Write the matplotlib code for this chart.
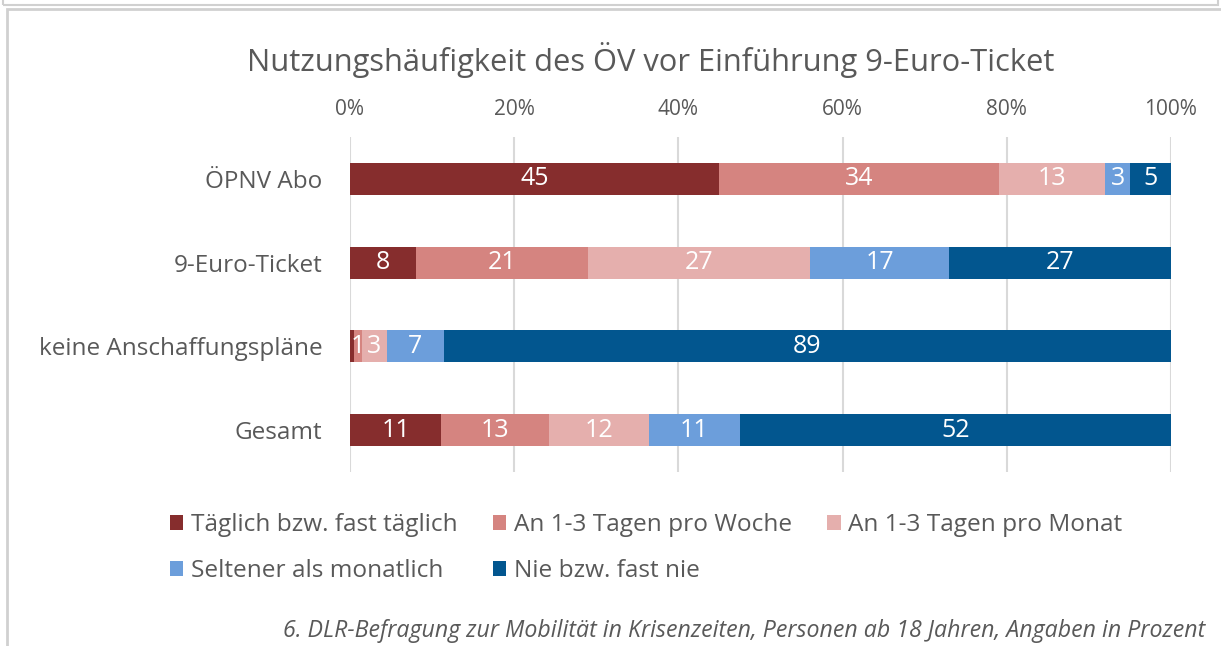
import matplotlib
matplotlib.use("Agg")
import matplotlib.pyplot as plt
import numpy as np
from matplotlib.patches import Rectangle

plt.rcParams['font.family'] = ['Open Sans', 'DejaVu Sans']

# data
groups = ['ÖPNV Abo', '9-Euro-Ticket', 'keine Anschaffungspläne', 'Gesamt']
series = ['Täglich bzw. fast täglich', 'An 1-3 Tagen pro Woche', 'An 1-3 Tagen pro Monat',
          'Seltener als monatlich', 'Nie bzw. fast nie']
taeglich = [45, 8, 0.5, 11]
woche = [34, 21, 1, 13]
monat = [13, 27, 3, 12]
seltener = [3, 17, 7, 11]
nie = [5, 27, 89, 52]
colors = ['#862D2D', '#D58480', '#E5AFAD', '#6C9EDB', '#02568F']

title = 'Nutzungshäufigkeit des ÖV vor Einführung 9-Euro-Ticket'
footnote = '6. DLR-Befragung zur Mobilität in Krisenzeiten, Personen ab 18 Jahren, Angaben in Prozent'

text_col = '#595959'

fig = plt.figure(figsize=(12.21, 6.46), dpi=100)
ax = fig.add_axes([350 / 1221, 1 - 472 / 646, 821 / 1221, 335 / 646])

values = np.array([taeglich, woche, monat, seltener, nie], dtype=float)
totals = values.sum(axis=0)
shares = values / totals * 100
y = np.arange(len(groups))
left = np.zeros(len(groups))
for i, name in enumerate(series):
    bars = ax.barh(y, shares[i], left=left, height=0.38, color=colors[i], label=name, zorder=3)
    for j, b in enumerate(bars):
        v = values[i][j]
        if v >= 1:
            ax.text(left[j] + shares[i][j] / 2, y[j], f'{v:.0f}', ha='center', va='center',
                    color='white', fontsize=18, zorder=4)
    left += shares[i]

ax.set_xlim(0, 100)
ax.set_ylim(3.5, -0.5)
ax.set_xticks(np.arange(0, 101, 20))
ax.set_xticklabels([f'{t}%' for t in range(0, 101, 20)])
ax.xaxis.tick_top()
ax.tick_params(axis='x', length=0, pad=12, labelsize=15, labelcolor=text_col)
ax.set_yticks(y)
ax.set_yticklabels(groups)
ax.tick_params(axis='y', length=0, pad=20, labelsize=17.5, labelcolor=text_col)
ax.grid(axis='x', color='#D9D9D9', linewidth=1.5, zorder=0)
for s in ax.spines.values():
    s.set_visible(False)

fig.suptitle(title, x=0.533, y=1 - 60 / 646, fontsize=22.2, color=text_col, va='center')

# Excel fills the legend row by row, matplotlib column by column
handles, labels = ax.get_legend_handles_labels()
order = [0, 3, 1, 4, 2]
fig.legend([handles[k] for k in order], [labels[k] for k in order],
           loc='upper left', bbox_to_anchor=(148 / 1221, 1 - 491 / 646), ncol=3,
           frameon=False, fontsize=17.6, labelcolor=text_col, handlelength=0.55,
           handleheight=0.55, handletextpad=0.3, columnspacing=1.45, labelspacing=0.9)

fig.text(1205 / 1221, 1 - 631 / 646, footnote, ha='right', va='center', style='italic',
         fontsize=16.7, color=text_col)

# frame of the chart box like in the source screenshot
fig.patches.append(Rectangle((3 / 1221, 1 - 5 / 646), 1215 / 1221, 0.05, transform=fig.transFigure,
                             fill=False, edgecolor='#D0D0D0', linewidth=1.5))
fig.patches.append(Rectangle((7 / 1221, -0.05), 1.0, 1 - 9 / 646 + 0.05, transform=fig.transFigure,
                             fill=False, edgecolor='#D0D0D0', linewidth=2))

fig.savefig('out.png', dpi=100)
